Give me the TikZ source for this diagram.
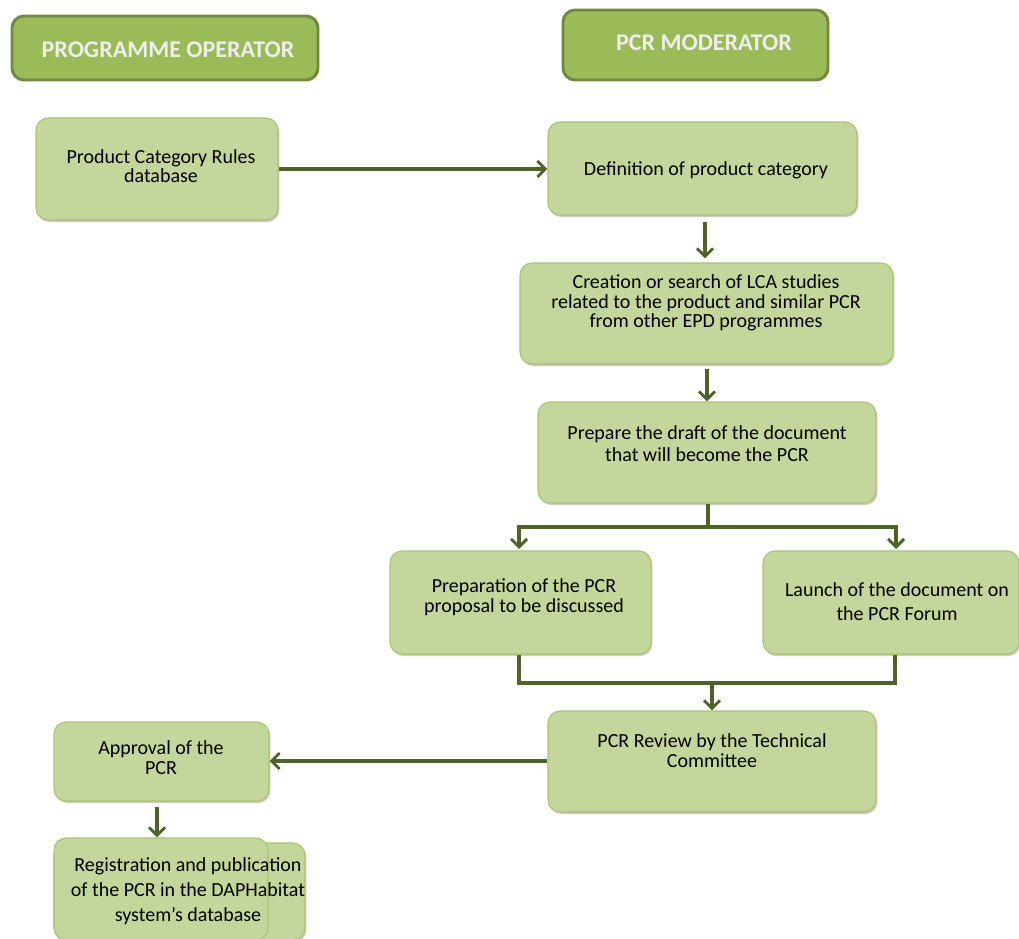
\documentclass[tikz,border=0pt]{standalone}
\usepackage{fontspec}
\setmainfont{Carlito}
\usetikzlibrary{arrows.meta,shadows}
\definecolor{hdrfill}{HTML}{9BBB59}
\definecolor{hdrline}{HTML}{71893F}
\definecolor{boxfill}{HTML}{C3D69B}
\definecolor{boxline}{HTML}{A9C46E}
\definecolor{arr}{HTML}{4F6228}
\definecolor{hdrtext}{HTML}{EEEEEE}
\tikzset{
  hdr/.style={draw=hdrline, line width=2.2pt, fill=hdrfill, rounded corners=9pt, inner sep=0pt},
  box/.style={draw=boxline, line width=0.8pt, fill=boxfill, rounded corners=9pt, inner sep=0pt,
    drop shadow={shadow xshift=1pt, shadow yshift=-1.5pt, opacity=0.35, fill=black!60}},
  boxns/.style={draw=boxline, line width=0.8pt, fill=boxfill, rounded corners=9pt, inner sep=0pt},
  hdrtxt/.style={font=\fontsize{18}{20}\selectfont\bfseries, text=hdrtext, inner sep=0pt},
  txt/.style={font=\fontsize{15}{#1}\selectfont, align=center, inner sep=0pt},
  txt/.default=15,
  flow/.style={draw=arr, line width=3pt, -{Straight Barb[length=6pt,width=12pt,line width=2.2pt]}},
  seg/.style={draw=arr, line width=3pt},
}
\newcommand\mybox[6]{\node[#1, minimum width={(#5-#3)*0.75pt}, minimum height={(#6-#4)*0.75pt}] (#2) at ({(#3+#5)/2},{(#4+#6)/2}) {};}
\begin{document}
\begin{tikzpicture}[x=0.75pt,y=-0.75pt]
\useasboundingbox (0,0) rectangle (1019,938);
% headers
\mybox{hdr}{po}{12}{16}{318}{80}
\node[hdrtxt] (potxt) at (168,50) {PROGRAMME OPERATOR};
\mybox{hdr}{pm}{563}{10}{828}{80}
\node[hdrtxt] (pmtxt) at (704,43) {PCR MODERATOR};
% boxes
\mybox{box}{db}{36}{118}{278}{220}
\node[txt=14.6] (dbt) at (161,166) {Product Category Rules\\database};
\mybox{box}{def}{548}{122}{857}{215}
\node[txt] (deft) at (706,170) {Definition of product category};
\mybox{box}{cre}{520}{263}{893}{364}
\node[txt=14.8] (cret) at (706,303) {Creation or search of LCA studies\\related to the product and similar PCR\\from other EPD programmes};
\mybox{box}{pre}{538}{402}{876}{503}
\node[txt=16.5] (pret) at (707,444) {Prepare the draft of the document\\that will become the PCR};
\mybox{box}{prp}{390}{551}{651}{654}
\node[txt=15] (prpt) at (524,597) {Preparation of the PCR\\proposal to be discussed};
\mybox{box}{lau}{763}{551}{1019}{654}
\node[txt=18] (laut) at (897,602) {Launch of the document on\\the PCR Forum};
\mybox{box}{rev}{548}{711}{876}{812}
\node[txt=15] (revt) at (712,751) {PCR Review by the Technical\\Committee};
\mybox{box}{app}{54}{722}{269}{801}
\node[txt=15] (appt) at (161,758) {Approval of the\\PCR};
\mybox{box}{regb}{54}{843}{305}{940}
\mybox{boxns}{reg}{54}{838}{268}{940}
\node[txt=18.75] (regt) at (188,891) {Registration and publication\\of the PCR in the DAPHabitat\\system's database};
% connectors
\coordinate (j1) at (708,527);
\coordinate (j2) at (712,683);
\draw[flow] (db.east |- 0,169) -- (def.west |- 0,169);
\draw[flow, shorten <=5pt, shorten >=3pt] (def.south -| 705,0) -- (cre.north -| 705,0);
\draw[flow, shorten <=3pt] (cre.south -| 707,0) -- (pre.north -| 707,0);
\draw[seg] (pre.south -| j1) -- (j1);
\draw[flow] (j1) -| (519,549);
\draw[flow] (j1) -| (896,549);
\draw[seg] (prp.south -| 519,0) |- (j2);
\draw[seg] (lau.south -| 895,0) |- (j2);
\draw[flow] (j2) -- (rev.north -| j2);
\draw[flow] (rev.west |- 0,761) -- (app.east |- 0,761);
\draw[flow, shorten <=4pt] (app.south -| 157,0) -- (reg.north -| 157,0);
\end{tikzpicture}
\end{document}
